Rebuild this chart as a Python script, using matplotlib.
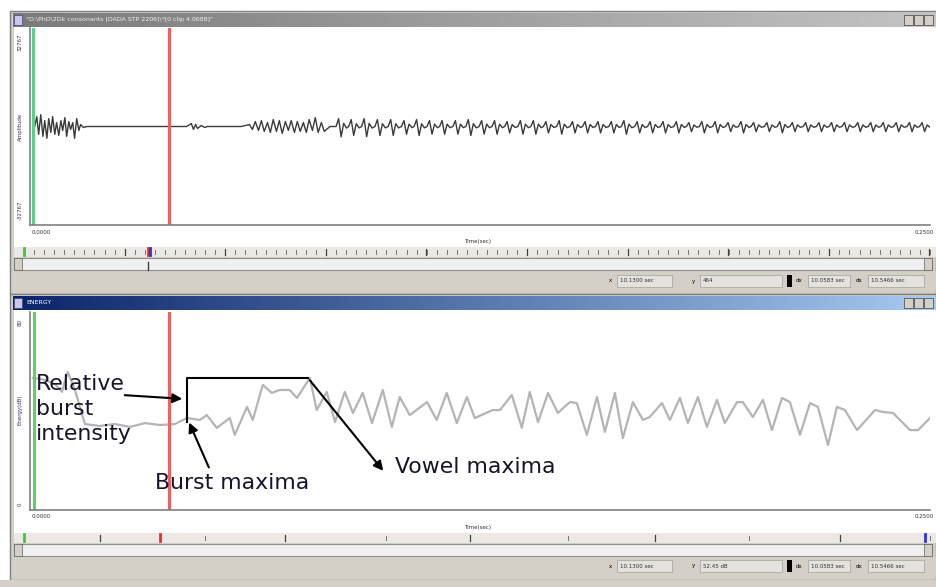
import numpy as np
import matplotlib
matplotlib.use("Agg")
from matplotlib import pyplot as plt
from matplotlib.patches import Rectangle

# --- data ---
# energy contour (bottom window): time in ms, energy in dB
energy_t = [0.3, 3.6, 6.4, 8.4, 10.0, 12.0, 14.8, 18.9, 23.1, 27.3, 31.5, 35.6, 39.8,
            43.2, 46.8, 48.7, 51.5, 55.1, 56.5, 59.9, 61.5, 64.3, 66.8, 69.0, 71.8,
            73.8, 77.4, 79.3, 82.1, 84.4, 87.1, 89.4, 92.1, 94.7, 97.7, 100.2, 102.4,
            105.2, 110.0, 112.7, 115.5, 118.3, 121.1, 123.3, 128.3, 130.3, 133.6,
            136.4, 138.6, 140.9, 143.7, 146.4, 149.8, 151.7, 154.5, 157.3, 159.5,
            162.3, 164.5, 167.3, 170.1, 172.0, 175.4, 177.6, 180.4, 182.6, 185.4,
            187.9, 190.7, 192.9, 196.3, 197.9, 200.7, 203.5, 206.0, 208.8, 211.0,
            213.8, 216.6, 218.8, 221.6, 224.1, 226.3, 229.7, 234.7, 236.9, 239.7,
            242.5, 244.4, 246.7, 250.0]
energy_db = [53.9, 53.1, 51.4, 48.1, 56.4, 48.9, 34.8, 34.0, 34.8, 33.6, 35.2, 34.4, 34.8,
             37.3, 36.5, 38.5, 33.2, 37.3, 30.3, 41.9, 36.5, 51.0, 47.7, 48.9, 48.9,
             45.6, 53.9, 40.6, 48.1, 35.6, 48.1, 39.4, 47.7, 35.2, 48.9, 33.6, 46.0,
             38.5, 43.9, 36.5, 47.7, 35.2, 46.0, 37.3, 40.6, 40.6, 46.8,
             33.2, 48.1, 35.6, 47.7, 39.4, 43.9, 43.5, 30.3, 46.0, 31.5,
             47.7, 29.0, 43.9, 36.5, 37.7, 43.5, 36.5, 45.6, 35.2, 46.0,
             33.6, 44.8, 35.2, 43.9, 43.9, 37.7, 44.8, 32.3, 45.6, 43.9,
             30.3, 43.5, 41.9, 26.1, 41.9, 40.6, 32.3, 40.6, 39.8, 39.4,
             35.2, 32.3, 32.3, 37.3]

# waveform (top window): burst + silence + aspiration noise, time in ms
wave_t = [0.8, 1.4, 1.9, 2.5, 3.1, 3.6, 4.2, 4.7, 5.3, 5.8, 6.4, 6.9, 7.5, 8.1, 8.6,
          9.2, 9.7, 10.3, 10.8, 11.4, 11.9, 12.5, 13.1, 13.6, 14.4, 15.3, 19.4,
          33.3, 43.1, 44.4, 45.0, 45.6, 46.1, 47.2, 48.1, 48.9, 58.3, 60.6, 61.4,
          62.2, 63.1, 63.9, 64.7, 65.6, 66.4, 67.2, 68.1, 68.9, 69.7, 70.6, 71.4,
          72.2, 73.1, 73.9, 74.7, 75.6, 76.4, 77.2, 78.1, 78.9, 79.7, 80.6, 81.4, 83.0]
wave_amp = [0, 10, -8, 12, -10, 6, -12, 8, -6, 10, -8, 4, -9, 6, -4,
            9, -10, 5, -3, 4, -12, 8, -4, 2, -1, 0, 0,
            0, 0, 3, -3, 2, -2, 1, -1, 0, 0, 2, -3,
            5, -4, 6, -5, 4, -6, 7, -5, 6, -7, 5, -4,
            6, -6, 5, -5, 4, -6, 7, -4, 9, -6, 4, -5, 0]

# vowel part: glottal pulse instants (ms) and pulse heights
pulse_t = [84.7, 88.2, 91.8, 95.5, 99.2, 102.9, 106.4, 110.0, 113.5, 117.2, 120.8,
           124.5, 128.1, 131.6, 135.3, 138.9, 142.4, 146.1, 149.8, 153.3, 156.9,
           160.6, 164.1, 167.8, 171.4, 175.0, 178.7, 182.2, 185.8, 189.5, 193.1,
           196.7, 200.2, 203.9, 207.5, 211.0, 214.7, 218.4, 221.9, 225.5, 229.2,
           232.8, 236.3, 239.9, 243.6, 247.1]
pulse_amp = [8, 7, 8, 7, 7, 6, 7, 6, 6, 6, 7, 6, 6, 5, 6, 6, 5, 6, 5, 5, 5,
             5, 6, 5, 5, 5, 5, 4, 5, 5, 4, 5, 4, 4, 5, 4, 4, 4, 4, 4, 4,
             4, 4, 4, 4, 4]

t_max = 250.0
red_cursor = 38.3   # ms

W, H = 936, 587
fig = plt.figure(figsize=(W / 100, H / 100), dpi=100)

# background (window chrome) in pixel coords
bg = fig.add_axes([0, 0, 1, 1], zorder=0)
bg.set_xlim(0, W)
bg.set_ylim(H, 0)
bg.axis("off")

fg = fig.add_axes([0, 0, 1, 1], zorder=10)
fg.set_xlim(0, W)
fg.set_ylim(H, 0)
fg.axis("off")
fg.patch.set_alpha(0)

face = "#d4d0c8"


def rect(x0, y0, x1, y1, fc, ec="none", lw=0.8, z=1):
    bg.add_patch(Rectangle((x0, y0), x1 - x0, y1 - y0, fc=fc, ec=ec, lw=lw, zorder=z))


def gradient(x0, y0, x1, y1, c0, c1):
    g = np.linspace(0, 1, 256)[None, :]
    cmap = matplotlib.colors.LinearSegmentedColormap.from_list("g", [c0, c1])
    bg.imshow(g, cmap=cmap, extent=(x0, x1, y1, y0), aspect="auto", zorder=2)


def window(y_top, y_bot, title, c0, c1, tc):
    rect(10, y_top, W, y_bot, face, ec="#808080", lw=1)
    gradient(13, y_top + 2, W, y_top + 16, c0, c1)
    rect(14, y_top + 4, 22, y_top + 14, "#c8c8e8", ec="#404080", lw=0.5, z=3)
    bg.text(26, y_top + 9, title, fontsize=4.5, color=tc, va="center", zorder=4)
    for bx in (904, 914, 924):
        rect(bx, y_top + 4, bx + 9, y_top + 14, face, ec="#404040", lw=0.5, z=3)
    rect(14, y_top + 16, W, y_bot - 40, "white", z=2)


def ruler(y0, xs_major, n_minor, markers):
    rect(14, y0, W, y0 + 10, "#ece9e4", z=3)
    for i in range(n_minor + 1):
        x = 24 + i * (906 / n_minor)
        bg.plot([x, x], [y0 + 3, y0 + 7], color="#606060", lw=0.6, zorder=4)
    for x in xs_major:
        bg.plot([x, x], [y0 + 2, y0 + 8], color="#404040", lw=0.9, zorder=4)
    for x, c in markers:
        bg.plot([x, x], [y0 + 1, y0 + 8], color=c, lw=2, zorder=5)
    # scroll bar
    rect(14, y0 + 11, W - 4, y0 + 23, "#f0f0f0", ec="#909090", z=3)
    rect(14, y0 + 11, 22, y0 + 23, face, ec="#606060", lw=0.5, z=4)
    rect(W - 12, y0 + 11, W - 4, y0 + 23, face, ec="#606060", lw=0.5, z=4)


def status(y0, fields):
    rect(14, y0, W, y0 + 18, face, z=3)
    for (x0, x1, label, txt) in fields:
        bg.text(x0 - 5, y0 + 9, label, fontsize=4, va="center", ha="right", zorder=5)
        rect(x0, y0 + 3, x1, y0 + 15, "#e4e2dc", ec="#a0a0a0", lw=0.5, z=4)
        bg.text(x0 + 3, y0 + 9, txt, fontsize=4, va="center", color="#303030", zorder=5)
    rect(787, y0 + 3, 792, y0 + 15, "black", z=4)


# top window
window(11, 294, r'"D:\PhD\2Dk consonants [DADA STP 2206]\*[0 clip 4.0688]"',
       "#7a7a7a", "#c4c4c4", "#f0f0f0")
ruler(247, [24 + k * 100.6 for k in range(10)], 90, [(24, "#3cc83c"), (148, "#e03030"), (150, "#3030e0")])
bg.plot([148, 148], [262, 270], color="#404040", lw=1, zorder=5)
status(272, [(617, 672, "x", "10.1300 sec"), (700, 782, "y", "464"),
             (808, 850, "dx", "10.0583 sec"), (868, 924, "dx", "10.5466 sec")])

# bottom window
window(294, 580, "ENERGY", "#0a246a", "#a6caf0", "white")
ruler(533, [100, 285, 470, 655, 840], 5, [(24, "#3cc83c"), (160, "#e03030"), (925, "#3030e0")])
status(557, [(617, 672, "x", "10.1300 sec"), (700, 782, "y", "52.45 dB"),
             (808, 850, "dx", "10.0583 sec"), (868, 924, "dx", "10.5466 sec")])
rect(0, 580, W, H, face, z=1)

# side labels
side = dict(fontsize=4, rotation=90, color="#303070", ha="center", va="center", zorder=5)
bg.text(20, 127, "Amplitude", **side)
bg.text(20, 42, "32767", **side)
bg.text(20, 210, "-32767", **side)
bg.text(20, 410, "Energy(dB)", **side)
bg.text(20, 322, "80", **side)
bg.text(20, 504, "0", **side)

for yb in (232, 517):
    bg.text(32, yb, "0.0000", fontsize=4, color="#303030", va="center", zorder=5)
    bg.text(934, yb, "0.2500", fontsize=4, color="#303030", va="center", ha="right", zorder=5)
    bg.text(478, yb + 10, "Time(sec)", fontsize=4, color="#303030", va="center", ha="center", zorder=5)


def data_axes(y0, y1):
    ax = fig.add_axes([30 / W, 1 - y1 / H, 900 / W, (y1 - y0) / H], zorder=5)
    ax.patch.set_alpha(0)
    for s in ("top", "right"):
        ax.spines[s].set_visible(False)
    for s in ("left", "bottom"):
        ax.spines[s].set_color("#808080")
        ax.spines[s].set_linewidth(1.2)
    ax.set_xticks([])
    ax.set_yticks([])
    ax.set_xlim(-0.5, t_max)
    return ax


# waveform
ax1 = data_axes(28, 225)
ax1.set_ylim(-100, 100)
wt = list(wave_t)
wa = list(wave_amp)
for t, a in zip(pulse_t, pulse_amp):
    wt += [t, t + 0.7, t + 1.4, t + 2.1, t + 2.9]
    wa += [0, a, -1.3 * a, 0.4 * a, -0.2 * a]
ax1.plot(wt, wa, color="#3a3a3a", lw=1.0)
ax1.axvline(0.3, color="#5cd08a", lw=2.2)
ax1.axvline(red_cursor, color="#f06060", lw=2.2)

# energy contour
ax2 = data_axes(312, 510)
ax2.set_ylim(-0.8, 81.2)
ax2.plot(energy_t, energy_db, color="#b4b4b4", lw=1.6)
ax2.axvline(0.5, color="#60d060", lw=2.2)
ax2.axvline(red_cursor, color="#f06060", lw=2.2)

# annotations (pixel coords on overlay)
fs = 15.8
ink = "#15152a"
fg.text(36, 409, "Relative\nburst\nintensity", fontsize=fs, color=ink,
        va="center", ha="left", linespacing=1.3)
fg.text(155, 483, "Burst maxima", fontsize=fs, color=ink, va="center")
fg.text(395, 467, "Vowel maxima", fontsize=fs, color=ink, va="center")
fg.plot([187, 187, 308], [422, 378, 378], color="black", lw=1.5)
arrow = dict(arrowstyle="-|>", color="black", lw=1.5, mutation_scale=14)
fg.annotate("", xy=(185, 399), xytext=(122, 395), arrowprops=arrow)
fg.annotate("", xy=(188, 420), xytext=(210, 470), arrowprops=arrow)
fg.annotate("", xy=(385, 473), xytext=(308, 378), arrowprops=arrow)

fig.savefig("out.png", dpi=100)
